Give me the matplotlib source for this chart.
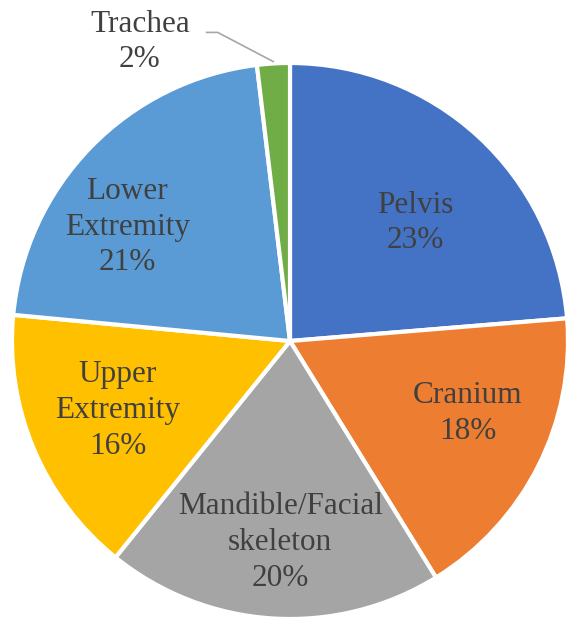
import matplotlib.pyplot as plt

labels = ['Pelvis', 'Cranium', 'Mandible/Facial\nskeleton', 'Upper\nExtremity', 'Lower\nExtremity', 'Trachea']
values = [23.7, 17.5, 19.6, 15.7, 21.6, 1.9]
# percentages as printed on the chart
pct_text = ['23%', '18%', '20%', '16%', '21%', '2%']
colors = ['#4472C4', '#ED7D31', '#A5A5A5', '#FFC000', '#5B9BD5', '#70AD47']

# label centres in axes data units (pie radius = 1)
label_pos = [(0.45, 0.425), (0.64, -0.26), (-0.035, -0.725), (-0.62, -0.25), (-0.585, 0.41), (-0.54, 1.075)]

plt.rcParams['font.family'] = ['Liberation Serif', 'DejaVu Serif']

fig = plt.figure(figsize=(5.66, 6.2), dpi=100)
W, H = 566, 620
cx, cy, r = 290, 341, 278
ax = fig.add_axes([(cx - r) / W, (H - cy - r) / H, 2 * r / W, 2 * r / H])

wedges, _ = ax.pie(values, colors=colors, startangle=90, counterclock=False,
                   radius=1, wedgeprops=dict(edgecolor='white', linewidth=3))
for w in wedges:
    w.set_clip_on(False)

for lab, p, (x, y) in zip(labels, pct_text, label_pos):
    ax.text(x, y, f'{lab}\n{p}', ha='center', va='center', fontsize=22.5,
            color='#404040', linespacing=1.3)

# leader line for Trachea
ax.plot([-0.3, -0.26, -0.06], [1.11, 1.11, 1.005], color='#A6A6A6', lw=1.2, clip_on=False)

ax.set_xlim(-1, 1)
ax.set_ylim(-1, 1)
ax.set_aspect('equal')
ax.axis('off')

fig.savefig('out.png', dpi=100)
